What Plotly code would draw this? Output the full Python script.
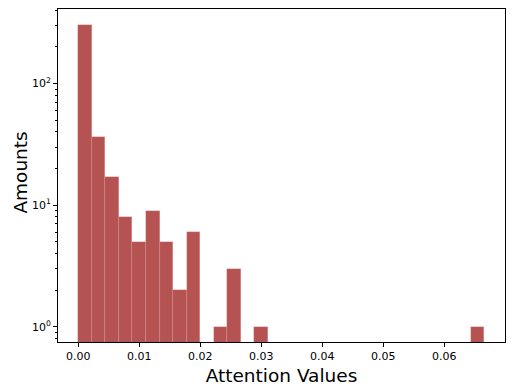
import numpy as np
import plotly.graph_objects as go

bin_min = 0.0
bin_max = 0.0666
n_bins = 30
counts = [305, 36, 17, 8, 5, 9, 5, 2, 6, 0, 1, 3, 0, 1, 0,
          0, 0, 0, 0, 0, 0, 0, 0, 0, 0, 0, 0, 0, 0, 1]
x_ticks = [0.00, 0.01, 0.02, 0.03, 0.04, 0.05, 0.06, 0.07]
y_ticks = [1, 10, 100]
y_tick_labels = ["10<sup>0</sup>", "10<sup>1</sup>", "10<sup>2</sup>"]

edges = np.linspace(bin_min, bin_max, n_bins + 1)
width = edges[1] - edges[0]
yvals = [c if c > 0 else None for c in counts]

fig = go.Figure(go.Bar(
    x=edges[:-1], y=yvals, width=width, offset=0,
    marker=dict(color="rgb(181,82,82)", line=dict(color="rgba(240,170,170,0.4)", width=0.5)),
))

minor_vals = [m * 10 ** e for e in range(-1, 3) for m in range(2, 10)]
span = bin_max - bin_min
fig.update_layout(
    width=522, height=390,
    margin=dict(l=50, r=25, t=1, b=56, autoexpand=False),
    plot_bgcolor="white", paper_bgcolor="white",
    font=dict(family="DejaVu Sans", color="black", size=11),
    showlegend=False, bargap=0,
    xaxis=dict(
        range=[bin_min - 0.05 * span, bin_max + 0.05 * span + 0.00005],
        tickvals=x_ticks, ticktext=[f"{v:.2f}" for v in x_ticks],
        ticks="outside", ticklen=4, tickcolor="black",
        showline=True, linecolor="black", linewidth=1, mirror=True,
        showgrid=False, zeroline=False, automargin=False,
        title=dict(text="Attention Values", font=dict(size=18.5), standoff=6),
    ),
    yaxis=dict(
        type="log", range=[-0.125, 2.612],
        tickvals=y_ticks, ticktext=y_tick_labels,
        ticks="outside", ticklen=4, tickcolor="black",
        minor=dict(tickvals=minor_vals, ticks="outside", ticklen=2, tickcolor="black", showgrid=False),
        showline=True, linecolor="black", linewidth=1, mirror=True,
        showgrid=False, zeroline=False, automargin=False,
    ),
    annotations=[dict(
        text="Amounts", textangle=-90, showarrow=False,
        xref="paper", yref="paper", x=-0.112, y=0.51,
        xanchor="left", yanchor="middle", font=dict(size=18.5),
    )],
)

fig.write_html("out.html")
